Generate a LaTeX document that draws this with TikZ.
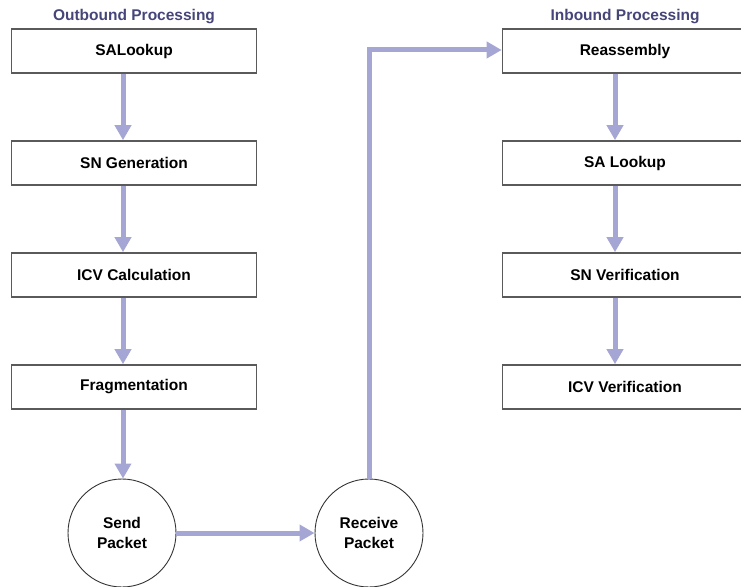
\documentclass[tikz,border=0pt]{standalone}
\usepackage{fontspec}
\setmainfont{Liberation Sans}
\usetikzlibrary{arrows.meta}
\definecolor{flowline}{HTML}{A6A6D4}
\definecolor{titleblue}{HTML}{45457A}
\definecolor{boxedge}{HTML}{5A5A5A}
\tikzset{
  stepbox/.style={draw=boxedge, line width=1.6pt, fill=white, minimum width=245pt,
    minimum height=44pt, inner sep=0pt, font=\fontsize{15.5}{19}\selectfont\bfseries},
  packet/.style={draw=black!80, line width=0.9pt, circle, minimum size=108pt, inner sep=0pt,
    align=center, font=\fontsize{15.5}{20}\selectfont\bfseries},
  heading/.style={text=titleblue, font=\fontsize{15.5}{19}\selectfont\bfseries, inner sep=0pt},
  flow/.style={draw=flowline, line width=5pt, -{Triangle[width=16pt,length=15pt]}}
}
\begin{document}
\begin{tikzpicture}[x=1pt,y=-1pt]
\useasboundingbox (0,0) rectangle (741,586);

% column headings
\node[heading] (outT) at (134,17) {Outbound Processing};
\node[heading] (inT) at (625,17) {Inbound Processing};

% outbound steps
\node[stepbox] (o1) at (134,51) {SALookup};
\node[stepbox] (o2) at (134,163) {SN Generation};
\node[stepbox] (o3) at (134,275) {ICV Calculation};
\node[stepbox] (o4) at (134,387) {Fragmentation};

% inbound steps
\node[stepbox] (i1) at (625,51) {Reassembly};
\node[stepbox] (i2) at (625,163) {SA Lookup};
\node[stepbox] (i3) at (625,275) {SN Verification};
\node[stepbox] (i4) at (625,387) {ICV Verification};

% packet transfer
\node[packet] (send) at (122,533) {Send\\Packet};
\node[packet] (recv) at (369,533) {Receive\\Packet};

% outbound flow
\draw[flow] ([xshift=-11pt]o1.south) -- ([xshift=-11pt]o2.north);
\draw[flow] ([xshift=-11pt]o2.south) -- ([xshift=-11pt]o3.north);
\draw[flow] ([xshift=-11pt]o3.south) -- ([xshift=-11pt]o4.north);
\draw[flow] ([xshift=-11pt]o4.south) -- ([xshift=1pt]send.north);

% across the link and up to the receiver
\draw[flow] (send.east) -- (recv.west);
\draw[flow] (recv.north) |- ([yshift=1pt]i1.west);

% inbound flow
\draw[flow] ([xshift=-10pt]i1.south) -- ([xshift=-10pt]i2.north);
\draw[flow] ([xshift=-10pt]i2.south) -- ([xshift=-10pt]i3.north);
\draw[flow] ([xshift=-10pt]i3.south) -- ([xshift=-10pt]i4.north);
\end{tikzpicture}
\end{document}
